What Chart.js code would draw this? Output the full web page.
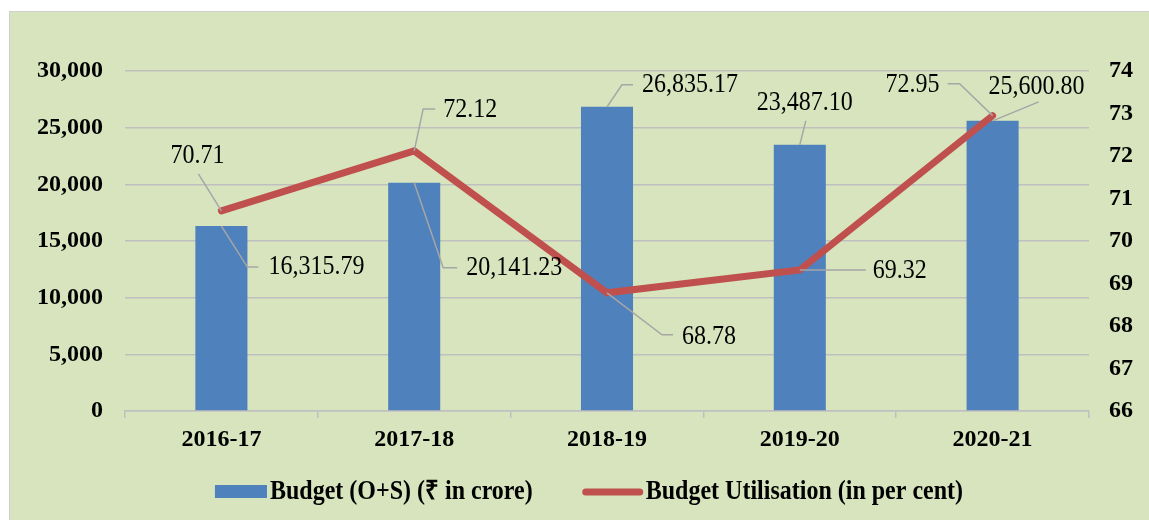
<!DOCTYPE html>
<html>
<head>
<meta charset="utf-8">
<script src="https://cdn.jsdelivr.net/npm/chart.js@4"></script>
<style>
  html, body { margin: 0; padding: 0; background: #fff; overflow: hidden; width: 1149px; height: 520px; }
  #box { position: absolute; left: 9px; top: 11px; width: 1158px; height: 508px; background: #D7E4BD; border: 1px solid #CFCFCF; }
  #myChart { display: block; }
</style>
</head>
<body>
<div id="box"><canvas id="myChart" width="1158" height="508"></canvas></div>
<script>
// data
var years = ['2016-17', '2017-18', '2018-19', '2019-20', '2020-21'];
var budget = [16315.79, 20141.23, 26835.17, 23487.10, 25600.80];
var utilisation = [70.71, 72.12, 68.78, 69.32, 72.95];
var budgetTicks = [0, 5000, 10000, 15000, 20000, 25000, 30000];
var utilTicks = [66, 67, 68, 69, 70, 71, 72, 73, 74];

var seriesNames = ['Budget (O+S) (\u20B9 in crore)', 'Budget Utilisation (in per cent)'];

// where each data label sits relative to its mark, and its leader line
var barLabelPos = [
    { dx: 47, dy: 41, align: 'left', lead: [[0, 0], [26, 41], [37, 41]] },
    { dx: 52, dy: 85, align: 'left', lead: [[0, 0], [29, 85], [43, 85]] },
    { dx: 35, dy: -22, align: 'left', lead: [[0, 0], [15, -22], [26, -22]] },
    { dx: 5, dy: -42, align: 'center', lead: [[0, 0], [6, -24]] },
    { dx: -4, dy: -34, align: 'left', lead: [[0, 0], [46, -19]] }
];
var lineLabelPos = [
    { dx: -24, dy: -55, align: 'center', lead: [[0, 0], [-23, -37]] },
    { dx: 29, dy: -41, align: 'left', lead: [[0, 0], [9, -42], [21, -42]] },
    { dx: 75, dy: 44, align: 'left', lead: [[0, 0], [55, 42], [66, 42]] },
    { dx: 73, dy: 1, align: 'left', lead: [[0, 0], [66, 0]] },
    { dx: -53, dy: -31, align: 'right', lead: [[0, 0], [-33, -32], [-45, -32]] }
];

const fmt = (v) => v.toLocaleString('en-US', { minimumFractionDigits: 2, maximumFractionDigits: 2 });
const tickFont = { family: "'Liberation Serif', 'Times New Roman', serif", size: 24, weight: 'bold' };

// text in the picture is a bit taller than wide
function tallText(ctx, txt, x, y, k) {
    ctx.save();
    ctx.translate(x, y);
    ctx.scale(1, k);
    ctx.fillText(txt, 0, 0);
    ctx.restore();
}

// data labels with leader lines
const labelPlugin = {
    id: 'leaderLabels',
    afterDatasetsDraw(chart) {
        const ctx = chart.ctx;
        const sets = [[0, barLabelPos], [1, lineLabelPos]];
        ctx.save();
        sets.forEach(function(s) {
            const meta = chart.getDatasetMeta(s[0]);
            const values = chart.data.datasets[s[0]].data;
            meta.data.forEach(function(el, i) {
                const p = s[1][i];
                ctx.strokeStyle = '#A6A6A6';
                ctx.lineWidth = 1.5;
                ctx.beginPath();
                p.lead.forEach(function(pt, k) {
                    if (k === 0) ctx.moveTo(el.x + pt[0], el.y + pt[1]);
                    else ctx.lineTo(el.x + pt[0], el.y + pt[1]);
                });
                ctx.stroke();
                ctx.fillStyle = '#000';
                ctx.font = "24px 'Liberation Serif', 'Times New Roman', serif";
                ctx.textAlign = p.align;
                ctx.textBaseline = 'middle';
                tallText(ctx, fmt(values[i]), el.x + p.dx, el.y + p.dy, 1.15);
            });
        });
        ctx.restore();
    }
};

// legend drawn at the bottom
const legendPlugin = {
    id: 'bottomLegend',
    afterDraw(chart) {
        const ctx = chart.ctx;
        const ds = chart.data.datasets;
        ctx.save();
        ctx.font = "bold 24px 'Liberation Serif', 'Times New Roman', serif";
        const w1 = ctx.measureText(ds[0].label).width;
        const w2 = ctx.measureText(ds[1].label).width;
        const total = 52 + 3 + w1 + 50 + 60 + 3 + w2;
        let x = 579 - total / 2;
        const y = 480;
        ctx.fillStyle = ds[0].backgroundColor;
        ctx.fillRect(x, y - 7, 52, 13);
        x += 55;
        ctx.fillStyle = '#000';
        ctx.textBaseline = 'middle';
        tallText(ctx, ds[0].label, x, y, 1.1);
        x += w1 + 50;
        ctx.strokeStyle = ds[1].borderColor;
        ctx.lineWidth = 7;
        ctx.lineCap = 'round';
        ctx.beginPath();
        ctx.moveTo(x + 3, y);
        ctx.lineTo(x + 57, y);
        ctx.stroke();
        x += 63;
        tallText(ctx, ds[1].label, x, y, 1.1);
        ctx.restore();
    }
};

var chart = new Chart(document.getElementById('myChart').getContext('2d'), {
    data: {
        labels: years,
        datasets: [
            {
                type: 'bar',
                label: seriesNames[0],
                data: budget,
                backgroundColor: '#4F81BD',
                categoryPercentage: 1,
                barPercentage: 0.27,
                yAxisID: 'y',
                order: 2
            },
            {
                type: 'line',
                label: seriesNames[1],
                data: utilisation,
                borderColor: '#C0504D',
                borderWidth: 7,
                borderCapStyle: 'round',
                pointRadius: 0,
                tension: 0,
                yAxisID: 'y1',
                order: 1
            }
        ]
    },
    options: {
        responsive: false,
        animation: false,
        layout: { padding: { top: 59, left: 0, right: 0, bottom: 0 } },
        plugins: {
            legend: { display: false },
            tooltip: { enabled: false }
        },
        scales: {
            x: {
                grid: { offset: true, drawOnChartArea: false, tickLength: 7, color: '#BFBFBF', lineWidth: 1.5 },
                border: { color: '#BFBFBF', width: 1.5 },
                ticks: { font: tickFont, color: '#000', padding: 7 },
                afterFit(scale) { scale.height = 109; }
            },
            y: {
                position: 'left',
                min: 0,
                max: 30000,
                afterBuildTicks(scale) { scale.ticks = budgetTicks.map(v => ({ value: v })); },
                ticks: { font: tickFont, color: '#000', padding: 22, callback: (v) => v.toLocaleString('en-US') },
                grid: { color: '#BFBFBF', lineWidth: 1.5, drawTicks: false },
                border: { display: false },
                afterFit(scale) { scale.width = 115; }
            },
            y1: {
                position: 'right',
                min: 66,
                max: 74,
                afterBuildTicks(scale) { scale.ticks = utilTicks.map(v => ({ value: v })); },
                ticks: { font: tickFont, color: '#000', padding: 20 },
                grid: { display: false, drawTicks: false },
                border: { display: false },
                afterFit(scale) { scale.width = 79; }
            }
        }
    },
    plugins: [labelPlugin, legendPlugin]
});
</script>
</body>
</html>
